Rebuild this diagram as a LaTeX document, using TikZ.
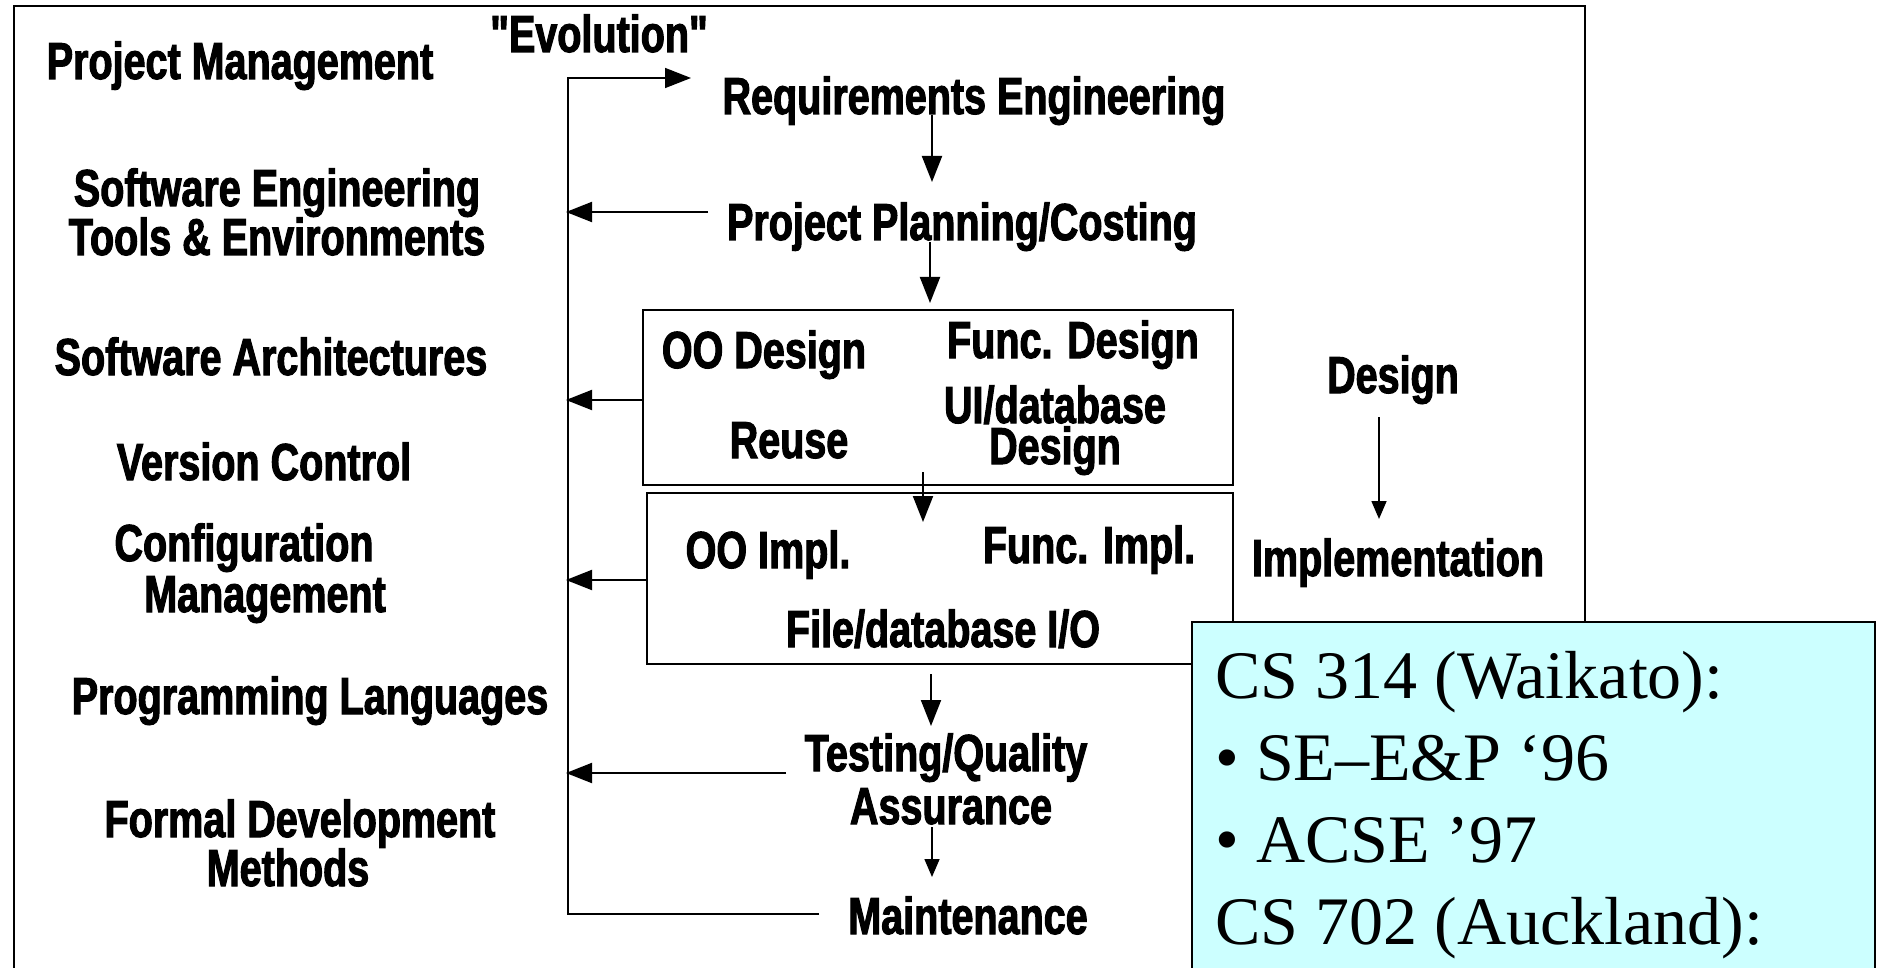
\documentclass[tikz,border=0pt]{standalone}
\usepackage{fontspec}
\setmainfont{Liberation Serif}
\newfontfamily\imp{Liberation Sans Bold}[FakeStretch=0.76,FakeBold=2]
\usetikzlibrary{arrows.meta}
\definecolor{notecyan}{RGB}{204,255,255}
\begin{document}
\begin{tikzpicture}[x=1pt,y=-1pt,
  lbl/.style={font=\imp\fontsize{52}{53}\selectfont, anchor=base, inner sep=0pt},
  srf/.style={font=\fontsize{68}{82}\selectfont, anchor=base west, inner sep=0pt},
  arr/.style={line width=2pt, -{Triangle[length=26pt,width=20pt]}},
  sarr/.style={line width=1.6pt, -{Triangle[length=18pt,width=15pt]}},
  fbline/.style={line width=1.6pt},
  phasebox/.style={draw, line width=2.5pt, inner sep=0pt}
]
\useasboundingbox (0,0) rectangle (1879,968);
\fill[white] (0,0) rectangle (1879,968);
% outer frame
\draw[line width=2pt] (14,6) rectangle (1585,1000);

% left column
\node[lbl] (pm)   at (240,79)  {Project Management};
\node[lbl] (se1)  at (277,206) {Software Engineering};
\node[lbl] (se2)  at (277,255) {Tools \& Environments};
\node[lbl] (sa)   at (271,375) {Software Architectures};
\node[lbl] (vc)   at (264,480) {Version Control};
\node[lbl] (cm1)  at (244,561) {Configuration};
\node[lbl] (cm2)  at (265,612) {Management};
\node[lbl] (pl)   at (310,714) {Programming Languages};
\node[lbl] (fd1)  at (300,837) {Formal Development};
\node[lbl] (fd2)  at (288,886) {Methods};

\node[lbl] (evo)  at (599,52)  {"Evolution"};

% process column
\node[lbl] (req)  at (974,114) {Requirements Engineering};
\node[lbl] (ppc)  at (962,240) {Project Planning/Costing};

\node[phasebox, minimum width=590pt, minimum height=175pt] (dbox) at (938,397.5) {};
\node[lbl] (ood)  at (764,368) {OO Design};
\node[lbl] (fnd)  at (1073,358) {Func. Design};
\node[lbl] (reu)  at (789,458) {Reuse};
\node[lbl] (uid1) at (1055,423) {UI/database};
\node[lbl] (uid2) at (1055,464) {Design};

\node[phasebox, minimum width=586pt, minimum height=171pt] (ibox) at (940,578.5) {};
\node[lbl] (ooi)  at (768,568) {OO Impl.};
\node[lbl] (fni)  at (1089,563) {Func. Impl.};
\node[lbl] (fio)  at (943,647) {File/database I/O};

\node[lbl] (tq1)  at (946,771) {Testing/Quality};
\node[lbl] (tq2)  at (951,824) {Assurance};
\node[lbl] (mnt)  at (968,934) {Maintenance};

% right labels
\node[lbl] (dsg)  at (1393,393) {Design};
\node[lbl] (imp)  at (1398,576) {Implementation};

% connector end points
\coordinate (fbtop) at (568,78);
\coordinate (fbbot) at (568,914);
\coordinate (reqin) at (691,78);
\coordinate (mntout) at (819,914);
\coordinate (ppcout) at (708,212);
\coordinate (ppcfb) at (566,212);
\coordinate (dfb) at (566,400);
\coordinate (ifb) at (566,580);
\coordinate (tqout) at (786,773);
\coordinate (tqfb) at (566,773);
\coordinate (r1) at (932,115);
\coordinate (r2) at (932,182);
\coordinate (p1) at (930,242);
\coordinate (p2) at (930,303);
\coordinate (b1) at (923,472);
\coordinate (b2) at (923,522);
\coordinate (i1) at (931,674);
\coordinate (i2) at (931,726);
\coordinate (t1) at (932,827);
\coordinate (t2) at (932,877);
\coordinate (d1) at (1379,417);
\coordinate (d2) at (1379,519);

% feedback loop
\draw[fbline, -{Triangle[length=26pt,width=20pt]}] (mntout) -- (fbbot) -- (fbtop) -- (reqin);
\draw[arr] (ppcout) -- (ppcfb);
\draw[arr] (dbox.west |- dfb) -- (dfb);
\draw[arr] (ibox.west |- ifb) -- (ifb);
\draw[arr] (tqout) -- (tqfb);

% flow arrows
\draw[arr] (r1) -- (r2);
\draw[arr] (p1) -- (p2);
\draw[arr] (b1) -- (b2);
\draw[arr] (i1) -- (i2);
\draw[sarr] (t1) -- (t2);
\draw[sarr] (d1) -- (d2);

% note box
\draw[line width=1.6pt, fill=notecyan] (1192,622) rectangle (1875,1000);
\node[srf] (n1) at (1215,698) {CS 314 (Waikato):};
\node[srf] (n2) at (1215,780) {• SE–E\&P ‘96};
\node[srf] (n3) at (1215,862) {• ACSE ’97};
\node[srf] (n4) at (1215,944) {CS 702 (Auckland):};
\end{tikzpicture}
\end{document}
